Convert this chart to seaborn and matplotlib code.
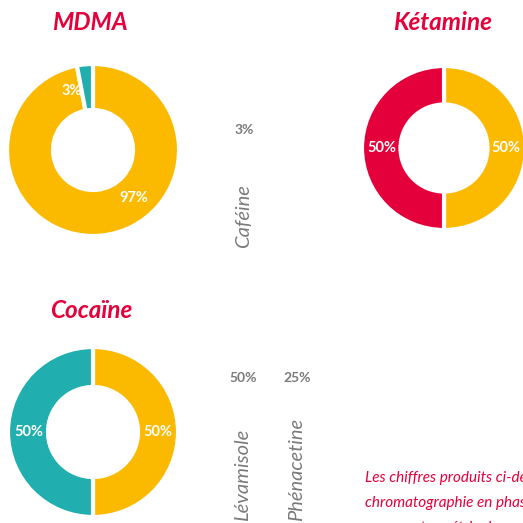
import matplotlib
matplotlib.use("Agg")
import matplotlib.pyplot as plt
import numpy as np
import seaborn as sns

sns.set_theme(style="white")
plt.rcParams['font.family'] = ['Lato', 'DejaVu Sans']

# ======== data ========
mdma_parts = ["MDMA", "Caféine"]
mdma_values = [97, 3]
ketamine_parts = ["Kétamine", "Autre"]
ketamine_values = [50, 50]
cocaine_parts = ["Cocaïne", "Produits de coupe"]
cocaine_values = [50, 50]

mdma_cuts = ["Caféine"]
mdma_cut_values = [3]
cocaine_cuts = ["Lévamisole", "Phénacetine"]
cocaine_cut_values = [50, 25]

note_lines = ["Les chiffres produits ci-dessous sont issus d'une",
              "chromatographie en phase gazeuse couplée à",
              "une spectrométrie de masse"]

# ======== colours ========
YELLOW = "#FBB900"
RED = "#E4003A"
TEAL = "#20AFAE"
GREY = "#7A7A7A"
palette = sns.color_palette([YELLOW, TEAL, RED])

W = H = 523
fig = plt.figure(figsize=(W / 100, H / 100), dpi=100)
fig.patch.set_facecolor("white")


def fx(px):
    return px / W


def fy(py):
    return 1 - py / H


def donut(cx, cy, r, inner, values, colors, label_angles=None, label_r=0.76):
    ax = fig.add_axes([fx(cx - r), fy(cy + r), 2 * r / W, 2 * r / H])
    wedges, _, autotexts = ax.pie(
        values, colors=colors, startangle=90, counterclock=False,
        wedgeprops=dict(width=1 - inner / r, edgecolor="white", linewidth=3),
        autopct=lambda p: f"{p:.0f}%", pctdistance=label_r,
        textprops=dict(color="white", fontsize=10.5, fontweight="bold"))
    if label_angles is not None:
        for t, a in zip(autotexts, label_angles):
            ang = np.deg2rad(90 - a)
            t.set_position((label_r * np.cos(ang), label_r * np.sin(ang)))
    ax.set_xlim(-1, 1)
    ax.set_ylim(-1, 1)
    ax.set_aspect("equal")
    ax.axis("off")
    return ax


# MDMA
donut(93, 150, 86, 40, mdma_values, [palette[0], palette[1]],
      label_angles=[140, -20], label_r=0.73)
# Kétamine
donut(444, 148, 82, 43.5, ketamine_values, [palette[0], palette[2]])
# Cocaïne
donut(93, 432, 85, 45, cocaine_values, [palette[0], palette[1]])

title_kw = dict(color=RED, fontsize=17.5, fontweight="bold", fontstyle="italic",
                ha="center", va="center")
fig.text(fx(90), fy(22), "MDMA", **title_kw)
fig.text(fx(443), fy(22), "Kétamine", **title_kw)
fig.text(fx(91), fy(310), "Cocaïne", **title_kw)

# adulterants (columns)
def cut_column(x, pct_y, bottom_y, name, value):
    fig.text(fx(x), fy(pct_y), f"{value}%", color=GREY, fontsize=10,
             fontweight="bold", ha="center", va="center")
    fig.text(fx(x), fy(bottom_y), name, color=GREY, fontsize=14.5,
             fontstyle="italic", fontweight="normal", rotation=90,
             ha="center", va="bottom")


for name, v in zip(mdma_cuts, mdma_cut_values):
    cut_column(244, 130, 248, name, v)
for (name, v), x in zip(zip(cocaine_cuts, cocaine_cut_values), [243, 297]):
    cut_column(x, 378, 521, name, v)

# note
for i, line in enumerate(note_lines):
    fig.text(fx(365), fy(478 + 25 * i), line, color=RED, fontsize=11,
             fontstyle="italic", ha="left", va="center")

fig.savefig("out.png", dpi=100, facecolor="white")
